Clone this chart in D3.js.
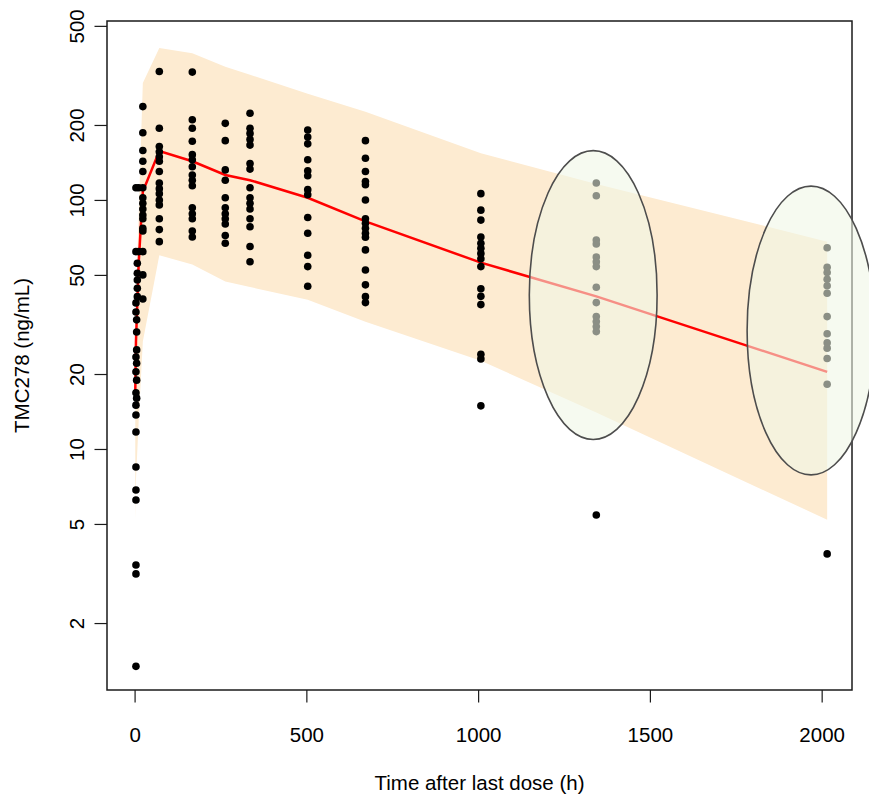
<!DOCTYPE html>
<html>
<head>
<meta charset="utf-8">
<script src="https://cdn.jsdelivr.net/npm/d3@7/dist/d3.min.js"></script>
<style>
  body { margin: 0; background: #fff; }
  text { font-family: "Liberation Sans", Arial, Helvetica, sans-serif; }
</style>
</head>
<body>
<div id="chart-area"></div>
<script>
// model prediction (median and 90% interval) at nominal times
const predTime = [2, 4, 12, 24, 72, 168, 264, 336, 504, 672, 1008, 1344, 2016];
const predMedian = [17, 27, 56, 108, 157, 143, 126, 120, 102, 82, 56, 41, 20.4];
const predLower = [5.2, 7.5, 13, 27, 60, 55, 47, 44.7, 39.7, 32.4, 22.6, 14, 5.2];
const predUpper = [25, 40, 88, 295, 407, 388, 343, 318, 267, 226, 154, 116, 68];

// observed concentrations, one list per sampling time
const obsTime = [4, 6, 8, 12, 24, 72, 168, 264, 336, 504, 672, 1008, 1344, 2016];
const obsConc = [
  [112, 62, 38.6, 35.5, 23.4, 20.4, 16.8, 15.0, 13.7, 11.7, 8.47, 6.84, 6.24, 3.42, 3.15, 1.34],
  [33.0, 29.5, 25.0, 22.1, 18.9, 16.0],
  [55.7, 50.8, 47.7, 44.2, 40.9],
  [112, 62],
  [237, 186, 158, 143, 130, 112, 102, 97, 92, 87, 84, 77, 75, 62, 50, 40],
  [328, 194, 164, 156, 149, 143, 130, 117, 111, 106, 100, 95.5, 84, 76, 68],
  [326, 210, 194, 172, 152, 145, 136, 126, 120, 114, 93, 88, 84, 75, 71],
  [203, 173, 132, 120, 102, 93, 88, 84, 80, 72, 67],
  [223, 194, 185, 175, 166, 140, 133, 112, 102, 97, 92, 84, 78, 65, 56.5],
  [191, 179, 168, 145, 131, 125, 110, 105, 85, 73.5, 60, 54, 45],
  [173, 147, 130, 118.5, 115, 100, 84, 80.6, 77, 73.5, 70.8, 63, 52.3, 45.6, 40.9, 38.7],
  [106, 91, 83, 71, 67, 64, 61, 58, 54, 44, 41, 38, 24, 23, 14.9],
  [117, 104, 69, 66.6, 59, 56.5, 54, 44.6, 38.7, 34, 32.5, 31, 29.6, 5.43],
  [64.3, 53.7, 51.1, 48, 45.2, 42.2, 34, 29, 26.7, 25.4, 23.1, 18.2, 3.79]
];

// highlighted regions (centre time, centre conc, half width in h, fold half height)
const ellipseTime = [1335, 1969];
const ellipseConc = [41.5, 29.9];
const ellipseHalfWidth = [186, 186];
const ellipseFold = [3.8, 3.8];

const xTicks = [0, 500, 1000, 1500, 2000];
const yTicks = [2, 5, 10, 20, 50, 100, 200, 500];

const margins = { top: 21, right: 17, bottom: 106, left: 107 };
const width = 869 - margins.left - margins.right;
const height = 796 - margins.top - margins.bottom;

const svg = d3.select('#chart-area')
  .append('svg')
  .attr('width', 869)
  .attr('height', 796);

const g = svg.append('g')
  .attr('transform', 'translate(' + margins.left + ', ' + margins.top + ')');

const x = d3.scaleLinear()
  .domain([-80.3, 2088.3])
  .range([0, width]);

const y = d3.scaleLog()
  .domain([1.077, 523])
  .range([height, 0]);

const pred = predTime.map((t, i) => ({ t: t, med: predMedian[i], lo: predLower[i], hi: predUpper[i] }));

const obs = [];
obsTime.forEach((t, i) => {
  obsConc[i].forEach((c) => obs.push({ t: t, c: c }));
});

// prediction interval
g.append('path')
  .datum(pred)
  .attr('fill', '#fdebd1')
  .attr('d', d3.area()
    .x((d) => x(d.t))
    .y0((d) => y(d.lo))
    .y1((d) => y(d.hi)));

// median
g.append('path')
  .datum(pred)
  .attr('fill', 'none')
  .attr('stroke', '#ff0000')
  .attr('stroke-width', 2.5)
  .attr('d', d3.line()
    .x((d) => x(d.t))
    .y((d) => y(d.med)));

// observations
g.selectAll('circle.obs')
  .data(obs)
  .enter()
  .append('circle')
  .attr('class', 'obs')
  .attr('cx', (d) => x(d.t))
  .attr('cy', (d) => y(d.c))
  .attr('r', 3.8)
  .attr('fill', '#000');

// box
g.append('rect')
  .attr('width', width)
  .attr('height', height)
  .attr('fill', 'none')
  .attr('stroke', '#1a1a1a')
  .attr('stroke-width', 1.5);

// X axis
const xAxisCall = d3.axisBottom(x)
  .tickValues(xTicks)
  .tickSize(12.5)
  .tickFormat(d3.format('d'));

const xAxis = g.append('g')
  .attr('transform', 'translate(0, ' + height + ')')
  .call(xAxisCall);
xAxis.select('.domain').remove();
xAxis.selectAll('line').attr('stroke', '#1a1a1a').attr('stroke-width', 1.2);
xAxis.selectAll('text')
  .attr('y', 52)
  .attr('dy', null)
  .attr('font-size', '20.5px')
  .attr('fill', '#000')
  .attr('font-family', '"Liberation Sans", Arial, sans-serif');

// Y axis
const yAxisCall = d3.axisLeft(y)
  .tickValues(yTicks)
  .tickSize(12.5)
  .tickFormat(d3.format('d'));

const yAxis = g.append('g')
  .call(yAxisCall);
yAxis.select('.domain').remove();
yAxis.selectAll('line').attr('stroke', '#1a1a1a').attr('stroke-width', 1.2);
yAxis.selectAll('text')
  .attr('x', null)
  .attr('dy', null)
  .attr('text-anchor', 'middle')
  .attr('transform', 'translate(-23, 0) rotate(-90)')
  .attr('font-size', '20.5px')
  .attr('fill', '#000')
  .attr('font-family', '"Liberation Sans", Arial, sans-serif');

// highlighted ellipses
g.selectAll('ellipse')
  .data(ellipseTime)
  .enter()
  .append('ellipse')
  .attr('cx', (d) => x(d))
  .attr('cy', (d, i) => y(ellipseConc[i]))
  .attr('rx', (d, i) => x(d + ellipseHalfWidth[i]) - x(d))
  .attr('ry', (d, i) => (y(ellipseConc[i] / ellipseFold[i]) - y(ellipseConc[i] * ellipseFold[i])) / 2)
  .attr('fill', 'rgb(240, 246, 230)')
  .attr('fill-opacity', 0.58)
  .attr('stroke', '#4d4d4d')
  .attr('stroke-width', 1.6);

// X Label
g.append('text')
  .attr('x', width / 2)
  .attr('y', height + 100)
  .attr('font-size', '20.5px')
  .attr('text-anchor', 'middle')
  .text('Time after last dose (h)');

// Y Label
g.append('text')
  .attr('x', -(height / 2))
  .attr('y', -78)
  .attr('font-size', '20.5px')
  .attr('text-anchor', 'middle')
  .attr('transform', 'rotate(-90)')
  .text('TMC278 (ng/mL)');
</script>
</body>
</html>
